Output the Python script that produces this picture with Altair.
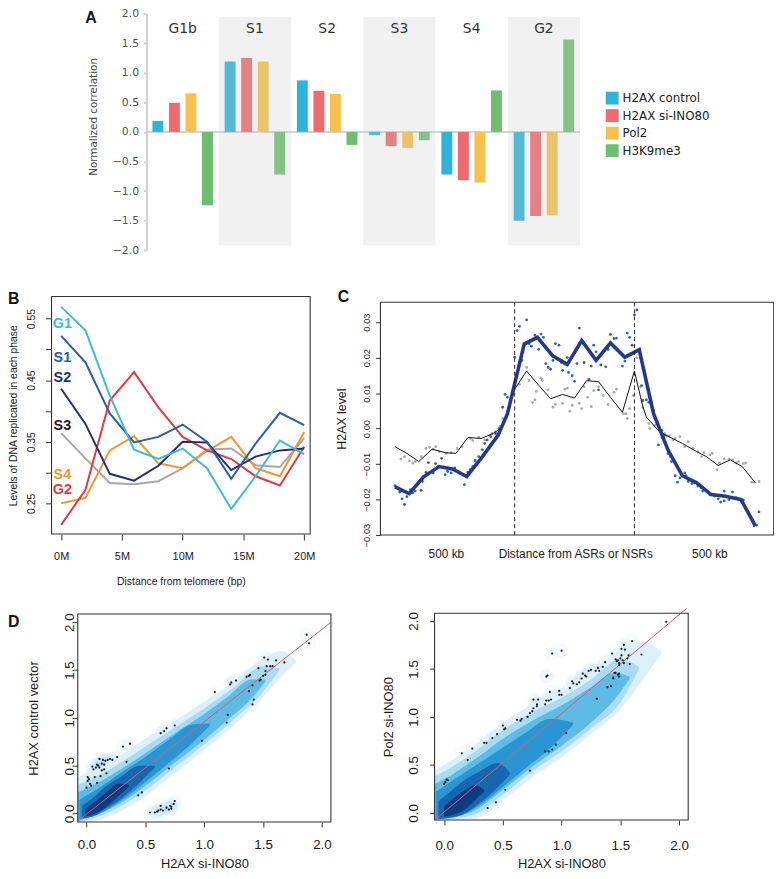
import altair as alt
import pandas as pd

W, H = 774, 871
SANS = "Liberation Sans"
WIDE = "DejaVu Sans"
INK = "#1a1a1a"
one = pd.DataFrame({"k": [0]})

# ---------------- Panel A data ----------------
groups = ["G1b", "S1", "S2", "S3", "S4", "G2"]
shaded_groups = ["S1", "S3", "G2"]
a_series = ["H2AX control", "H2AX si-INO80", "Pol2", "H3K9me3"]
a_colors = ["#2cb4da", "#ef6a6e", "#f8c14c", "#6dbf6f"]
a_h2ax_control = [0.185, 1.19, 0.87, -0.055, -0.72, -1.50]
a_h2ax_siino80 = [0.49, 1.25, 0.695, -0.24, -0.815, -1.42]
a_pol2 = [0.65, 1.19, 0.64, -0.27, -0.855, -1.41]
a_h3k9me3 = [-1.24, -0.72, -0.22, -0.14, 0.70, 1.56]
a_ticks = [-2, -1.5, -1, -0.5, 0, 0.5, 1, 1.5, 2]

# ---------------- Panel B data ----------------
b_pos = [0, 2, 4, 6, 8, 10, 12, 14, 16, 18, 20]          # Mb from telomere
b_series = ["S3", "S4", "G2", "S2", "S1", "G1"]
b_colors = ["#a8a8a8", "#f29530", "#e03a40", "#1f2f7a", "#2e5ca8", "#3fbad6"]
b_g1 = [0.569, 0.531, 0.425, 0.337, 0.322, 0.339, 0.307, 0.241, 0.294, 0.352, 0.330]
b_s1 = [0.522, 0.479, 0.396, 0.349, 0.358, 0.378, 0.350, 0.290, 0.347, 0.397, 0.377]
b_s2 = [0.436, 0.379, 0.298, 0.287, 0.311, 0.350, 0.349, 0.304, 0.326, 0.336, 0.339]
b_s3 = [0.364, 0.323, 0.283, 0.281, 0.286, 0.307, 0.337, 0.339, 0.312, 0.309, 0.356]
b_s4 = [0.250, 0.259, 0.336, 0.359, 0.315, 0.307, 0.335, 0.358, 0.307, 0.294, 0.366]
b_g2 = [0.215, 0.272, 0.417, 0.463, 0.406, 0.358, 0.336, 0.322, 0.294, 0.279, 0.342]
b_label_text = ["G1", "S1", "S2", "S3", "S4", "G2"]
b_label_color = ["#3fbad6", "#2e5ca8", "#1f2f7a", "#1a1a1a", "#f29530", "#e03a40"]
b_label_y = [0.5416, 0.4857, 0.453, 0.3758, 0.2955, 0.2709]
b_yticks = [0.25, 0.30, 0.35, 0.40, 0.45, 0.50, 0.55]
b_xticks = [0, 5, 10, 15, 20]

# ---------------- Panel C data ----------------
# position: 0..1 = ASR/NSR body, -1..0 and 1..2 = 500 kb flanks
c_blue_pts = [
    (-1.00, -0.0161), (-0.98, -0.0167), (-0.96, -0.0179), (-0.94, -0.0198), (-0.92, -0.0214),
    (-0.90, -0.0192), (-0.87, -0.0172), (-0.85, -0.0181), (-0.83, -0.0176), (-0.78, -0.0174),
    (-0.77, -0.0149), (-0.74, -0.0123), (-0.72, -0.0096), (-0.68, -0.0125), (-0.66, -0.0099),
    (-0.64, -0.0107), (-0.61, -0.0084), (-0.58, -0.0130), (-0.56, -0.0121), (-0.53, -0.0125),
    (-0.50, -0.0111), (-0.46, -0.0125), (-0.42, -0.0158), (-0.40, -0.0135), (-0.39, -0.0123),
    (-0.37, -0.0116), (-0.35, -0.0107), (-0.33, -0.0090), (-0.30, -0.0079), (-0.27, -0.0060),
    (-0.25, -0.0042), (-0.23, -0.0032), (-0.20, -0.0023), (-0.16, -0.0014), (-0.13, 0.0000),
    (-0.10, 0.0060), (-0.08, 0.0096), (-0.06, 0.0088), (0.00, 0.0201), (0.02, 0.0276),
    (0.04, 0.0288), (0.06, 0.0192), (0.10, 0.0306), (0.12, 0.0239), (0.14, 0.0232),
    (0.17, 0.0263), (0.18, 0.0257), (0.20, 0.0223), (0.22, 0.0266), (0.24, 0.0257),
    (0.26, 0.0183), (0.28, 0.0172), (0.30, 0.0167), (0.32, 0.0192), (0.34, 0.0239),
    (0.37, 0.0235), (0.39, 0.0186), (0.40, 0.0164), (0.42, 0.0181), (0.44, 0.0200),
    (0.45, 0.0158), (0.48, 0.0149), (0.50, 0.0133), (0.52, 0.0183), (0.54, 0.0283),
    (0.58, 0.0186), (0.62, 0.0139), (0.64, 0.0176), (0.66, 0.0235), (0.68, 0.0216),
    (0.70, 0.0109), (0.72, 0.0179), (0.76, 0.0174), (0.78, 0.0223), (0.80, 0.0265),
    (0.83, 0.0253), (0.85, 0.0255), (0.90, 0.0176), (0.92, 0.0190), (0.94, 0.0269),
    (0.96, 0.0257), (0.98, 0.0235), (1.00, 0.0320), (1.02, 0.0334), (1.05, 0.0200),
    (1.06, 0.0121), (1.07, 0.0079), (1.10, 0.0081), (1.12, 0.0074), (1.16, 0.0051),
    (1.23, -0.0005), (1.20, -0.0046), (1.23, -0.0025), (1.25, -0.0019), (1.28, -0.0070),
    (1.30, -0.0079), (1.31, -0.0093), (1.34, -0.0133), (1.36, -0.0151), (1.38, -0.0139),
    (1.42, -0.0125), (1.43, -0.0133), (1.45, -0.0149), (1.48, -0.0155), (1.50, -0.0153),
    (1.53, -0.0162), (1.56, -0.0167), (1.57, -0.0176), (1.63, -0.0186), (1.67, -0.0190),
    (1.70, -0.0198), (1.72, -0.0207), (1.75, -0.0204), (1.75, -0.0176), (1.79, -0.0200),
    (1.82, -0.0179), (1.85, -0.0195), (1.87, -0.0200), (1.91, -0.0201), (2.00, -0.0274),
    (2.02, -0.0272), (2.04, -0.0235),
]
c_gray_pts = [
    (-0.95, -0.0086), (-0.92, -0.0079), (-0.88, -0.0091), (-0.85, -0.0097), (-0.83, -0.0093),
    (-0.78, -0.0079), (-0.74, -0.0056), (-0.71, -0.0053), (-0.68, -0.0058), (-0.66, -0.0051),
    (-0.63, -0.0065), (-0.57, -0.0070), (-0.53, -0.0068), (-0.48, -0.0056), (-0.44, -0.0051),
    (-0.37, -0.0028), (-0.35, -0.0034), (-0.30, -0.0025), (-0.25, -0.0032), (-0.21, -0.0019),
    (-0.19, -0.0014), (-0.16, -0.0009), (-0.12, 0.0006), (-0.10, 0.0028), (-0.06, 0.0046),
    (-0.04, 0.0062), (0.04, 0.0125), (0.10, 0.0172), (0.12, 0.0135), (0.15, 0.0074),
    (0.17, 0.0081), (0.18, 0.0105), (0.22, 0.0142), (0.23, 0.0136), (0.28, 0.0109),
    (0.32, 0.0060), (0.34, 0.0068), (0.40, 0.0071), (0.42, 0.0111), (0.44, 0.0114),
    (0.46, 0.0049), (0.48, 0.0065), (0.54, 0.0071), (0.56, 0.0056), (0.58, 0.0118),
    (0.61, 0.0088), (0.64, 0.0062), (0.66, 0.0107), (0.70, 0.0118), (0.74, 0.0093),
    (0.78, 0.0068), (0.83, 0.0102), (0.85, 0.0111), (0.91, 0.0042), (0.93, 0.0042),
    (0.94, 0.0028), (0.96, 0.0056), (0.99, 0.0093), (1.02, 0.0200), (1.05, 0.0118),
    (1.07, 0.0060), (1.12, 0.0014), (1.13, 0.0000), (1.17, 0.0009), (1.21, -0.0005),
    (1.25, -0.0014), (1.27, -0.0021), (1.29, -0.0021), (1.32, -0.0032), (1.34, -0.0028),
    (1.38, -0.0023), (1.42, -0.0051), (1.45, -0.0037), (1.49, -0.0056), (1.53, -0.0065),
    (1.56, -0.0079), (1.58, -0.0068), (1.63, -0.0074), (1.65, -0.0070), (1.69, -0.0116),
    (1.71, -0.0097), (1.75, -0.0086), (1.79, -0.0086), (1.82, -0.0088), (1.85, -0.0097),
    (1.87, -0.0093), (1.91, -0.0099), (1.93, -0.0097), (1.98, -0.0151), (2.00, -0.0151),
    (2.04, -0.0149),
]
c_blue_line = [
    (-1.00, -0.0164), (-0.88, -0.0183), (-0.76, -0.0136), (-0.63, -0.0107), (-0.52, -0.0114),
    (-0.40, -0.0135), (-0.28, -0.0084), (-0.14, -0.0020), (-0.06, 0.0042), (0.08, 0.0238),
    (0.19, 0.0257), (0.32, 0.0204), (0.44, 0.0181), (0.56, 0.0248), (0.68, 0.0192),
    (0.80, 0.0241), (0.92, 0.0201), (1.04, 0.0222), (1.16, 0.0042), (1.28, -0.0060),
    (1.40, -0.0133), (1.52, -0.0153), (1.64, -0.0186), (1.76, -0.0191), (1.89, -0.0200),
    (2.01, -0.0274),
]
c_black_line = [
    (-1.00, -0.0051), (-0.90, -0.0070), (-0.80, -0.0093), (-0.69, -0.0058), (-0.58, -0.0068),
    (-0.49, -0.0070), (-0.39, -0.0025), (-0.28, -0.0028), (-0.18, -0.0014), (-0.10, 0.0005),
    (0.00, 0.0111), (0.10, 0.0162), (0.20, 0.0122), (0.30, 0.0084), (0.40, 0.0096),
    (0.50, 0.0086), (0.60, 0.0135), (0.70, 0.0132), (0.80, 0.0088), (0.90, 0.0046),
    (1.00, 0.0162), (1.07, 0.0062), (1.10, 0.0032), (1.21, -0.0009), (1.29, -0.0023),
    (1.40, -0.0042), (1.52, -0.0065), (1.60, -0.0079), (1.70, -0.0104), (1.80, -0.0088),
    (1.90, -0.0107), (2.01, -0.0153),
]
c_dashed_at = [0, 1]
c_yticks = [-0.03, -0.02, -0.01, 0.0, 0.01, 0.02, 0.03]
c_xtext = ["500 kb", "Distance from ASRs or NSRs", "500 kb"]
c_xtext_pos = [-0.57, 0.51, 1.63]

# ---------------- Panel D data ----------------
d_ticks = [0, 0.5, 1, 1.5, 2]
d1_points = [
    (0.00, 0.27), (0.01, 0.34), (0.01, 0.38), (0.02, 0.36), (0.03, 0.31), (0.04, 0.29),
    (0.05, 0.49), (0.06, 0.46), (0.07, 0.38), (0.08, 0.48), (0.09, 0.51), (0.09, 0.32),
    (0.10, 0.50), (0.11, 0.57), (0.11, 0.48), (0.12, 0.39), (0.13, 0.52), (0.13, 0.45),
    (0.14, 0.56), (0.15, 0.51), (0.15, 0.46), (0.16, 0.55), (0.17, 0.42), (0.18, 0.56),
    (0.20, 0.57), (0.22, 0.56), (0.26, 0.59), (0.31, 0.70), (0.34, 0.54), (0.37, 0.73),
    (0.44, 0.19), (0.47, 0.22), (0.63, 0.84), (0.66, 0.86), (0.68, 0.89), (0.75, 0.92),
    (0.70, 0.47), (0.98, 0.76), (0.54, 0.01), (0.58, 0.01), (0.61, 0.03), (0.63, 0.08),
    (0.63, 0.04), (0.65, 0.03), (0.68, 0.06), (0.70, 0.04), (0.71, 0.08), (0.72, 0.07),
    (0.74, 0.10), (0.75, 0.13), (0.60, 0.02), (0.72, 0.05), (1.09, 1.27), (1.19, 0.95),
    (1.20, 1.03), (1.22, 1.35), (1.23, 1.37), (1.27, 1.39), (1.36, 1.43), (1.38, 1.44),
    (1.39, 1.45), (1.38, 1.28), (1.41, 1.34), (1.42, 1.19), (1.41, 1.14), (1.46, 1.52),
    (1.47, 1.39), (1.48, 1.40), (1.50, 1.44), (1.51, 1.63), (1.52, 1.45), (1.52, 1.49),
    (1.53, 1.54), (1.54, 1.61), (1.56, 1.54), (1.58, 1.54), (1.61, 1.60), (1.68, 1.58),
    (1.87, 1.87), (1.89, 1.78),
]
d2_points = [
    (0.00, 0.30), (0.01, 0.32), (0.02, 0.35), (0.03, 0.34), (0.15, 0.62), (0.20, 0.55),
    (0.24, 0.67), (0.34, 0.73), (0.36, 0.73), (0.41, 0.78), (0.45, 0.82), (0.50, 0.91),
    (0.52, 0.88), (0.51, 0.87), (0.62, 0.97), (0.65, 0.96), (0.66, 0.98), (0.71, 1.00),
    (0.73, 1.04), (0.75, 1.06), (0.76, 1.09), (0.76, 1.18), (0.79, 1.11), (0.79, 1.13),
    (0.80, 1.18), (0.86, 1.13), (0.87, 1.17), (0.89, 1.17), (0.91, 1.18), (0.90, 1.26),
    (0.87, 1.42), (0.88, 1.43), (0.92, 1.66), (1.00, 1.69), (0.98, 1.27), (0.98, 1.23),
    (1.00, 1.23), (1.07, 1.30), (1.09, 1.37), (1.10, 1.35), (1.13, 1.34), (1.15, 1.36),
    (1.17, 1.40), (1.18, 1.45), (1.20, 1.43), (1.21, 1.42), (1.23, 1.48), (1.25, 1.49),
    (1.29, 1.48), (1.31, 1.51), (1.32, 1.48), (1.35, 1.52), (1.37, 1.57), (1.30, 1.19),
    (1.39, 1.31), (1.42, 1.32), (1.44, 1.40), (1.44, 1.41), (1.45, 1.46), (1.46, 1.46),
    (1.43, 1.66), (1.46, 1.60), (1.47, 1.58), (1.48, 1.59), (1.49, 1.56), (1.49, 1.54),
    (1.50, 1.61), (1.51, 1.64), (1.51, 1.71), (1.52, 1.59), (1.53, 1.56), (1.53, 1.75),
    (1.54, 1.70), (1.56, 1.61), (1.58, 1.55), (1.60, 1.79), (1.57, 1.64), (1.48, 1.44),
    (1.49, 1.42), (1.49, 1.45), (1.68, 1.65), (1.89, 1.99), (0.73, 0.44), (1.04, 0.83),
    (0.95, 0.71), (0.86, 0.64), (0.89, 0.64), (0.92, 0.66), (0.52, 0.24), (0.44, 0.11),
    (0.37, 0.05),
]
d1_fit = [(-0.074, -0.078), (2.076, 2.0)]
d2_fit = [(-0.082, -0.075), (2.065, 2.13)]
# smoothed-density contour bands: (x, lower, upper), outermost first
d1_bands = [
    ([-0.074, 0.0, 0.25, 0.5, 0.75, 1.0, 1.25, 1.5, 1.65, 1.78],
     [-0.09, -0.09, 0.0, 0.18, 0.42, 0.66, 0.92, 1.22, 1.42, 1.58],
     [0.38, 0.42, 0.58, 0.78, 0.97, 1.17, 1.38, 1.62, 1.70, 1.60]),
    ([-0.074, 0.0, 0.25, 0.5, 0.75, 1.0, 1.25, 1.5, 1.64],
     [-0.09, -0.07, 0.05, 0.24, 0.48, 0.72, 0.98, 1.27, 1.50],
     [0.30, 0.34, 0.50, 0.70, 0.90, 1.10, 1.32, 1.54, 1.52]),
    ([-0.074, 0.0, 0.25, 0.5, 0.75, 1.0, 1.2, 1.4, 1.52],
     [-0.08, -0.05, 0.08, 0.29, 0.53, 0.77, 0.98, 1.20, 1.38],
     [0.22, 0.26, 0.43, 0.63, 0.84, 1.04, 1.22, 1.40, 1.40]),
    ([-0.06, 0.1, 0.3, 0.5, 0.7, 0.9, 1.05],
     [-0.06, -0.01, 0.14, 0.33, 0.53, 0.74, 0.92],
     [0.14, 0.26, 0.43, 0.59, 0.77, 0.93, 0.94]),
    ([-0.04, 0.05, 0.15, 0.3, 0.45, 0.58],
     [-0.05, -0.03, 0.04, 0.16, 0.32, 0.48],
     [0.08, 0.16, 0.27, 0.39, 0.50, 0.50]),
    ([-0.01, 0.08, 0.18, 0.27, 0.36],
     [-0.03, 0.0, 0.08, 0.18, 0.28],
     [0.05, 0.13, 0.23, 0.31, 0.30]),
]
d2_bands = [
    ([-0.082, 0.0, 0.25, 0.5, 0.75, 1.0, 1.25, 1.5, 1.7, 1.85],
     [-0.075, -0.075, -0.06, 0.13, 0.37, 0.58, 0.82, 1.08, 1.40, 1.66],
     [0.44, 0.50, 0.70, 0.94, 1.13, 1.27, 1.46, 1.68, 1.78, 1.68]),
    ([-0.082, 0.0, 0.25, 0.5, 0.75, 1.0, 1.25, 1.5, 1.66],
     [-0.075, -0.07, -0.02, 0.19, 0.43, 0.64, 0.88, 1.15, 1.50],
     [0.38, 0.43, 0.63, 0.86, 1.05, 1.20, 1.39, 1.60, 1.52]),
    ([-0.08, 0.0, 0.25, 0.5, 0.75, 1.0, 1.25, 1.45, 1.58],
     [-0.07, -0.06, 0.02, 0.24, 0.48, 0.70, 0.94, 1.18, 1.40],
     [0.30, 0.35, 0.55, 0.77, 0.96, 1.12, 1.31, 1.46, 1.42]),
    ([-0.07, 0.1, 0.3, 0.5, 0.7, 0.9, 1.1],
     [-0.06, -0.04, 0.08, 0.27, 0.47, 0.67, 0.92],
     [0.22, 0.36, 0.52, 0.68, 0.84, 0.98, 0.94]),
    ([-0.05, 0.05, 0.15, 0.3, 0.45, 0.56],
     [-0.06, -0.05, -0.02, 0.10, 0.26, 0.40],
     [0.12, 0.22, 0.32, 0.43, 0.52, 0.42]),
    ([0.0, 0.08, 0.18, 0.26, 0.34],
     [-0.04, -0.02, 0.04, 0.13, 0.22],
     [0.07, 0.15, 0.24, 0.29, 0.24]),
]
band_colors = ["#dcf0fa", "#a9dbf2", "#5dbbe6", "#2b95d3", "#1766b0", "#0d3c84"]

# ---------------- scales (each panel gets its own region of the canvas) ----------------
def lin(domain, rng):
    return alt.Scale(type="linear", domain=domain, range=rng, nice=False, zero=False)

def a_band():
    return alt.Scale(type="band", domain=groups, range=[140, 578], paddingInner=0, paddingOuter=0)

A_xq = lin([0, 6], [140, 578])
A_y = lin([-2, 2], [240.3, 1])
B_xd, B_yd = [-0.79, 20.49], [0.2002, 0.5858]
B_x, B_y = lin(B_xd, [44, 305.3]), lin(B_yd, [527, 287])
C_xd, C_yd = [-1.121, 2.163], [-0.030, 0.0356]
C_x, C_y = lin(C_xd, [376.3, 773.7]), lin(C_yd, [528, 292.7])
D1_xd, D1_yd = [-0.074, 2.076], [-0.09, 2.087]
D1_x, D1_y = lin(D1_xd, [70.5, 326.3]), lin(D1_yd, [818, 607.7])
D2_xd, D2_yd = [-0.082, 2.078], [-0.075, 2.08]
D2_x, D2_y = lin(D2_xd, [431, 687.3]), lin(D2_yd, [816, 607])


def r_left(offset, values, tick, pad, title, title_x, fs, title_fs, fmt=None, expr=None):
    kw = dict(orient="left", offset=offset, values=values, domain=False, ticks=True,
              tickSize=tick, tickColor="#333", tickWidth=1, labelAngle=270,
              labelAlign="center", labelBaseline="middle", labelPadding=pad,
              labelFont=SANS, labelFontSize=fs, labelColor=INK, labelFlush=False,
              labelOverlap=False, grid=False, title=title, titleX=title_x,
              titleBaseline="middle", titleAngle=270, titleFont=SANS,
              titleFontSize=title_fs, titleFontWeight="normal", titleColor=INK)
    if fmt:
        kw["format"] = fmt
    if expr:
        kw["labelExpr"] = expr
    return alt.Axis(**kw)


def r_bottom(offset, values, tick, pad, title, title_y, fs, title_fs, fmt=None, expr=None):
    kw = dict(orient="bottom", offset=offset, values=values, domain=False, ticks=True,
              tickSize=tick, tickColor="#333", tickWidth=1, labelPadding=pad,
              labelFont=SANS, labelFontSize=fs, labelColor=INK, labelFlush=False,
              labelOverlap=False, grid=False, title=title, titleY=title_y,
              titleBaseline="top", titleFont=SANS, titleFontSize=title_fs,
              titleFontWeight="normal", titleColor=INK)
    if fmt:
        kw["format"] = fmt
    if expr:
        kw["labelExpr"] = expr
    return alt.Axis(**kw)


def box(xs, ys, xd, yd):
    return alt.Chart(one).mark_rect(fill="#ffffff", fillOpacity=0, stroke="#333",
                                    strokeWidth=1.1).encode(
        x=alt.X(datum=xd[0], scale=xs, axis=None), x2=alt.datum(xd[1]),
        y=alt.Y(datum=yd[0], scale=ys, axis=None), y2=alt.datum(yd[1]))


def letter(txt, xs, ys, xv, yv, align):
    return alt.Chart(one).mark_text(text=txt, font=SANS, fontSize=16, fontWeight="bold",
                                    color="#111", align=align, baseline="middle").encode(
        x=alt.X(datum=xv, scale=xs, axis=None), y=alt.Y(datum=yv, scale=ys, axis=None))


def pts_df(pairs):
    return pd.DataFrame(pairs, columns=["x", "y"])


layers = []

# ================= Panel A =================
a_vals = [a_h2ax_control, a_h2ax_siino80, a_pol2, a_h3k9me3]
df_a = pd.DataFrame([{"group": g, "series": s, "value": v[i]}
                     for s, v in zip(a_series, a_vals) for i, g in enumerate(groups)])
a_yaxis = alt.Axis(orient="left", offset=-140, values=a_ticks, format=".1f", domain=True,
                   domainColor="#d2d2d2", domainWidth=2, ticks=True, tickColor="#d2d2d2",
                   tickWidth=2, tickSize=3, labelFont=WIDE, labelFontSize=11, labelColor="#555",
                   labelPadding=5, labelFlush=False, labelOverlap=False, grid=False,
                   title="Normalized correlation", titleFont=WIDE, titleFontSize=10.5,
                   titleFontWeight="normal", titleColor="#444", titleX=-54, titleY=105,
                   titleBaseline="middle", titleAngle=270)
a_legend = alt.Legend(orient="none", legendX=604, legendY=80, title=None, symbolType="square",
                      symbolSize=169, symbolStrokeWidth=0, symbolOpacity=1, labelFont=WIDE,
                      labelFontSize=12, labelColor="#222", rowPadding=4.7, padding=0,
                      labelOffset=4)
layers.append(alt.Chart(one).mark_rule(color="#c4c4c4", strokeWidth=1.5).encode(
    x=alt.X(datum=0, scale=A_xq, axis=None), x2=alt.datum(6),
    y=alt.Y(datum=0, scale=A_y, axis=None)))
layers.append(alt.Chart(df_a).mark_bar().encode(
    x=alt.X("group:N", scale=a_band(), axis=None),
    xOffset=alt.XOffset("series:N", scale=alt.Scale(domain=a_series, paddingInner=0.34,
                                                    paddingOuter=0.355)),
    y=alt.Y("value:Q", scale=A_y, axis=a_yaxis),
    y2=alt.datum(0),
    color=alt.Color("series:N", scale=alt.Scale(domain=a_series, range=a_colors),
                    legend=a_legend)))
layers.append(alt.Chart(pd.DataFrame({"group": shaded_groups})).mark_rect(
    color="#c6c6c6", opacity=0.25).encode(
    x=alt.X("group:N", scale=a_band(), axis=None),
    y=alt.Y(datum=1.94, scale=A_y, axis=None), y2=alt.datum(-1.92)))
layers.append(alt.Chart(pd.DataFrame({"group": groups})).mark_text(
    font=WIDE, fontSize=14, color="#333").encode(
    x=alt.X("group:N", scale=a_band(), axis=None),
    y=alt.Y(datum=1.73, scale=A_y, axis=None), text="group:N"))
layers.append(letter("A", A_xq, A_y, -0.77, 1.916, "center"))

# ================= Panel B =================
b_vals = {"G1": b_g1, "S1": b_s1, "S2": b_s2, "S3": b_s3, "S4": b_s4, "G2": b_g2}
df_b = pd.DataFrame([{"pos": p, "series": s, "level": b_vals[s][i]}
                     for s in b_series for i, p in enumerate(b_pos)])
b_xaxis = r_bottom(527 - H, b_xticks, 6, 10.7, "Distance from telomere (bp)", 43.3, 11, 10.5,
                   expr="datum.value + 'M'")
b_yaxis = r_left(-44, b_yticks, 6, 14.3, "Levels of DNA replicated in each phase", -38, 10.5,
                 10.5, expr="(round(datum.value*100) % 10 == 5) ? format(datum.value, '.2f') : ''")
for s, col in zip(b_series, b_colors):
    first = s == b_series[0]
    layers.append(alt.Chart(df_b[df_b.series == s]).mark_line(color=col, strokeWidth=2).encode(
        x=alt.X("pos:Q", scale=B_x, axis=b_xaxis if first else None),
        y=alt.Y("level:Q", scale=B_y, axis=b_yaxis if first else None)))
df_blab = pd.DataFrame({"t": b_label_text, "y": b_label_y, "c": b_label_color})
layers.append(alt.Chart(df_blab).mark_text(font=SANS, fontSize=14.5, fontWeight="bold",
                                           align="center", baseline="middle").encode(
    x=alt.X(datum=0.1, scale=B_x, axis=None),
    y=alt.Y("y:Q", scale=B_y, axis=None),
    text="t:N",
    color=alt.Color("c:N", scale=None, legend=None)))
layers.append(box(B_x, B_y, B_xd, B_yd))
layers.append(letter("B", B_x, B_y, -4.37, 0.581, "left"))

# ================= Panel C =================
c_yaxis = r_left(-376.3, c_yticks, 5, 8.6, "H2AX level", -39, 9.5, 12.5, fmt=".2f")
layers.append(alt.Chart(pts_df(c_gray_pts)).mark_circle(size=8, color="#a9a9a9", opacity=1).encode(
    x=alt.X("x:Q", scale=C_x, axis=None), y=alt.Y("y:Q", scale=C_y, axis=None)))
layers.append(alt.Chart(pts_df(c_blue_pts)).mark_circle(size=8, color="#2f62b0", opacity=1).encode(
    x=alt.X("x:Q", scale=C_x, axis=None), y=alt.Y("y:Q", scale=C_y, axis=None)))
layers.append(alt.Chart(pts_df(c_black_line)).mark_line(color="#111", strokeWidth=1).encode(
    x=alt.X("x:Q", scale=C_x, axis=None), y=alt.Y("y:Q", scale=C_y, axis=None)))
layers.append(alt.Chart(pts_df(c_blue_line)).mark_line(color="#25398c", strokeWidth=3.6).encode(
    x=alt.X("x:Q", scale=C_x, axis=None), y=alt.Y("y:Q", scale=C_y, axis=c_yaxis)))
layers.append(alt.Chart(pd.DataFrame({"u": c_dashed_at})).mark_rule(
    color="#222", strokeDash=[4, 3], strokeWidth=1).encode(
    x=alt.X("u:Q", scale=C_x, axis=None),
    y=alt.Y(datum=C_yd[0], scale=C_y, axis=None), y2=alt.datum(C_yd[1])))
layers.append(alt.Chart(pd.DataFrame({"t": c_xtext, "u": c_xtext_pos})).mark_text(
    font=SANS, fontSize=12, color=INK, baseline="middle").encode(
    x=alt.X("u:Q", scale=C_x, axis=None), y=alt.Y(datum=-0.0353, scale=C_y, axis=None),
    text="t:N"))
layers.append(box(C_x, C_y, C_xd, C_yd))
layers.append(letter("C", C_x, C_y, -1.429, 0.037, "center"))


# ================= Panel D =================
def d_panel(xs, ys, xd, yd, bands, points, fit, xaxis, yaxis):
    out = []
    pdf = pts_df(points)
    out.append(alt.Chart(pdf).mark_circle(size=220, color="#7cc6ea", opacity=0.07).encode(
        x=alt.X("x:Q", scale=xs, axis=None), y=alt.Y("y:Q", scale=ys, axis=None)))
    for (bx, lo, hi), col in zip(bands, band_colors):
        out.append(alt.Chart(pd.DataFrame({"x": bx, "lo": lo, "hi": hi})).mark_area(
            color=col, interpolate="monotone").encode(
            x=alt.X("x:Q", scale=xs, axis=None), y=alt.Y("hi:Q", scale=ys, axis=None),
            y2="lo:Q"))
    out.append(alt.Chart(pts_df(fit)).mark_line(color="#e05a64", strokeWidth=1).encode(
        x=alt.X("x:Q", scale=xs, axis=None), y=alt.Y("y:Q", scale=ys, axis=None)))
    out.append(alt.Chart(pdf).mark_circle(size=5, color="#1a1a1a", opacity=1).encode(
        x=alt.X("x:Q", scale=xs, axis=xaxis), y=alt.Y("y:Q", scale=ys, axis=yaxis)))
    out.append(box(xs, ys, xd, yd))
    return out


d1_xaxis = r_bottom(818 - H, d_ticks, 5, 11, "H2AX si-INO80", 35.7, 13.5, 13, fmt=".1f")
d1_yaxis = r_left(-70.5, d_ticks, 4, 4, "H2AX control vector", -44.3, 13.5, 13, fmt=".1f")
d2_xaxis = r_bottom(816 - H, d_ticks, 5, 13.3, "H2AX si-INO80", 37.7, 13.5, 13, fmt=".1f")
d2_yaxis = r_left(-431, d_ticks, 5, 16.5, "Pol2 si-INO80", -46.5, 13.5, 13, fmt=".1f")
layers += d_panel(D1_x, D1_y, D1_xd, D1_yd, d1_bands, d1_points, d1_fit, d1_xaxis, d1_yaxis)
layers += d_panel(D2_x, D2_y, D2_xd, D2_yd, d2_bands, d2_points, d2_fit, d2_xaxis, d2_yaxis)
layers.append(letter("D", D1_x, D1_y, -0.667, 2.001, "left"))

chart = alt.layer(*layers).resolve_scale(
    x="independent", y="independent", color="independent"
).resolve_axis(x="independent", y="independent").properties(
    width=W, height=H, autosize=alt.AutoSizeParams(type="none"), padding=0, background="white"
).configure_view(stroke=None).configure_axis(grid=False)

chart.save("out.html", embed_options={"renderer": "svg", "actions": False})
